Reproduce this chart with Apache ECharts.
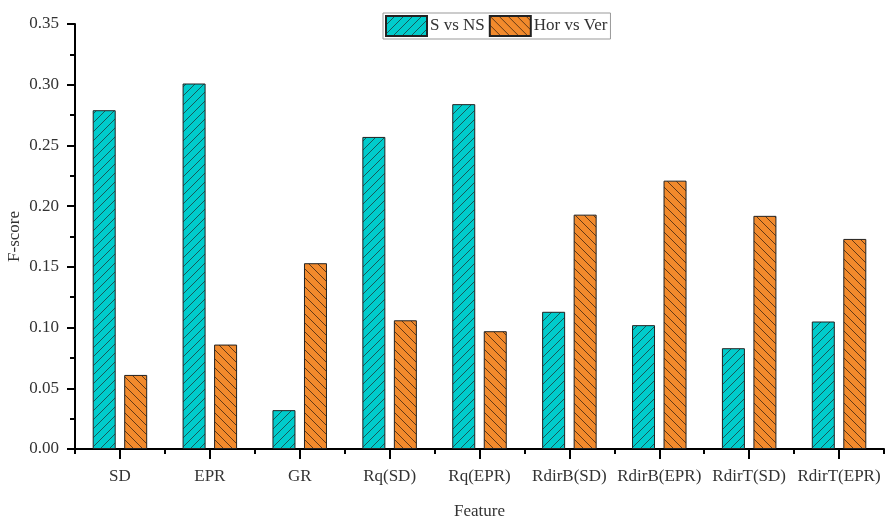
<!DOCTYPE html>
<html>
<head>
<meta charset="utf-8">
<script src="https://cdn.jsdelivr.net/npm/echarts@6/dist/echarts.min.js"></script>
<style>html,body{margin:0;padding:0;background:#fff}#c{width:894px;height:521px}</style>
</head>
<body>
<div id="c"></div>
<script>
var categories = ['SD','EPR','GR','Rq(SD)','Rq(EPR)','RdirB(SD)','RdirB(EPR)','RdirT(SD)','RdirT(EPR)'];
var sVsNS = [0.279,0.301,0.032,0.257,0.284,0.113,0.102,0.083,0.105];
var horVsVer = [0.061,0.086,0.153,0.106,0.097,0.193,0.221,0.192,0.173];
var seriesNames = ['S vs NS','Hor vs Ver'];
var yTitle = 'F-score';
var xTitle = 'Feature';

function hatch(fill, line, forward) {
  var s = 9;
  var c = document.createElement('canvas');
  c.width = s; c.height = s;
  var g = c.getContext('2d');
  g.fillStyle = fill; g.fillRect(0,0,s,s);
  g.strokeStyle = line; g.lineWidth = 0.8;
  g.beginPath();
  if (forward) {
    g.moveTo(0,s); g.lineTo(s,0);
    g.moveTo(-1,1); g.lineTo(1,-1);
    g.moveTo(s-1,s+1); g.lineTo(s+1,s-1);
  } else {
    g.moveTo(0,0); g.lineTo(s,s);
    g.moveTo(-1,s-1); g.lineTo(1,s+1);
    g.moveTo(s-1,-1); g.lineTo(s+1,1);
  }
  g.stroke();
  return {image: c, repeat: 'repeat'};
}

var font = 'Liberation Serif';
var chart = echarts.init(document.getElementById('c'), null, {renderer:'canvas'});
var gridBox = {left: 75, right: 10, top: 24, bottom: 72, containLabel: false, outerBoundsMode: 'none'};
chart.setOption({
  animation: false,
  textStyle: {fontFamily: font},
  legend: {
    left: 383, top: 13,
    data: seriesNames,
    icon: 'rect',
    itemWidth: 41, itemHeight: 20,
    itemGap: 4,
    padding: [2, 3, 2, 2],
    borderColor: '#999', borderWidth: 1,
    backgroundColor: '#fff',
    textStyle: {fontFamily: font, fontSize: 17, color: '#333', padding: [0,0,0,-2]}
  },
  graphic: [{
    type: 'text', left: 6, top: 211, rotation: Math.PI / 2,
    style: {text: yTitle, font: '17px "Liberation Serif"', fill: '#333'}
  }],
  grid: [
    Object.assign({}, gridBox),
    Object.assign({}, gridBox)
  ],
  xAxis: [
    {
      type: 'category', gridIndex: 0, data: categories,
      name: xTitle, nameLocation: 'middle', nameGap: 54,
      nameTextStyle: {fontFamily: font, fontSize: 17, color: '#333'},
      axisLine: {lineStyle: {color: '#000', width: 2}},
      axisTick: {show: false},
      axisLabel: {fontFamily: font, fontSize: 17, color: '#333', margin: 19, interval: 0},
      splitLine: {show: false}
    },
    {
      type: 'value', gridIndex: 1, min: 0, max: categories.length, interval: 1,
      axisLine: {show: false},
      axisTick: {show: true, inside: false, length: 5, lineStyle: {color: '#000', width: 2}},
      minorTick: {show: true, splitNumber: 2, length: 10, lineStyle: {color: '#000', width: 2}},
      axisLabel: {show: false},
      splitLine: {show: false}
    }
  ],
  yAxis: [
    {
      type: 'value', gridIndex: 0, min: 0, max: 0.35, interval: 0.05,
      axisLine: {show: true, lineStyle: {color: '#000', width: 2}},
      axisTick: {show: true, inside: false, length: 8, lineStyle: {color: '#000', width: 2}},
      minorTick: {show: true, splitNumber: 2, length: 5, lineStyle: {color: '#000', width: 2}},
      axisLabel: {fontFamily: font, fontSize: 17, color: '#333', margin: 16,
        formatter: function (v) { return v.toFixed(2); }},
      splitLine: {show: false}
    },
    {
      type: 'value', gridIndex: 1, min: 0, max: 0.35, show: false
    }
  ],
  series: [
    {
      name: seriesNames[0], type: 'bar', xAxisIndex: 0, yAxisIndex: 0,
      data: sVsNS, barWidth: 23, barGap: '37%',
      itemStyle: {color: hatch('#00CCCC', '#1d3b3b', true), borderColor: '#222', borderWidth: 1}
    },
    {
      name: seriesNames[1], type: 'bar', xAxisIndex: 0, yAxisIndex: 0,
      data: horVsVer, barWidth: 23, barGap: '37%',
      itemStyle: {color: hatch('#F28A2C', '#3d2410', false), borderColor: '#222', borderWidth: 1}
    }
  ]
});
</script>
</body>
</html>
